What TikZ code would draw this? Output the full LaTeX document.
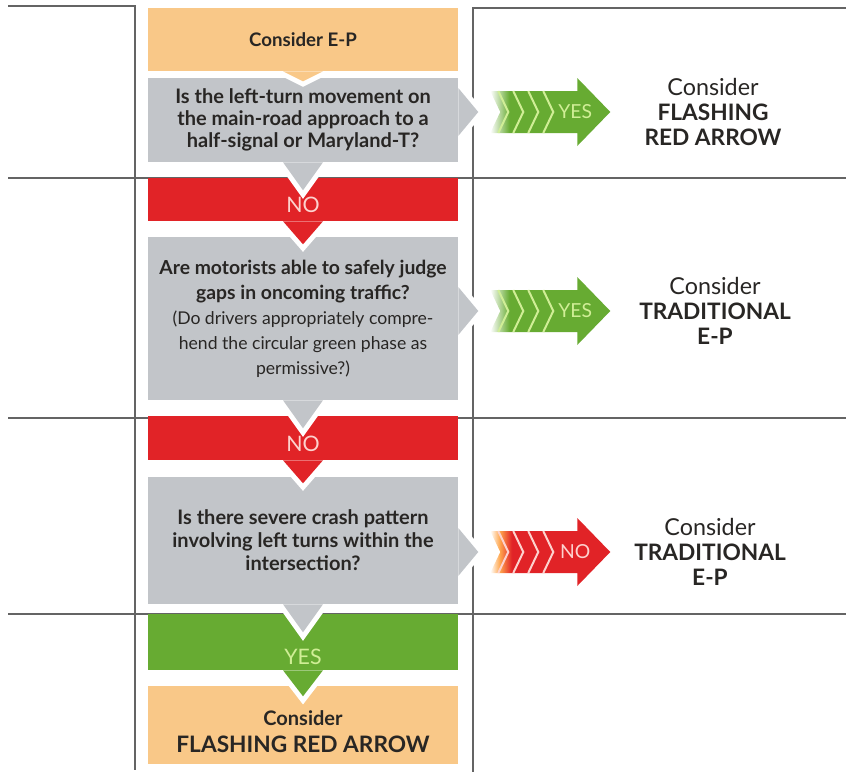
\documentclass[tikz,border=0pt]{standalone}
\usepackage{fontspec}
\setmainfont{Lato}
\usetikzlibrary{calc}

\definecolor{epOrange}{RGB}{249,200,136}
\definecolor{askGray}{RGB}{194,197,201}
\definecolor{noRed}{RGB}{225,35,39}
\definecolor{yesGreen}{RGB}{103,171,50}
\definecolor{yesTint}{RGB}{208,238,150}
\definecolor{noTint}{RGB}{253,210,206}
\definecolor{ruleGray}{RGB}{100,100,100}
\definecolor{ink}{RGB}{40,38,36}

\pgfdeclarehorizontalshading{yesfade}{100bp}{color(0bp)=(white); color(25bp)=(white); color(33bp)=(yesGreen); color(100bp)=(yesGreen)}
\pgfdeclarehorizontalshading{nofade}{100bp}{color(0bp)=(white); color(25bp)=(white); color(29bp)=(orange!70); color(34bp)=(noRed); color(100bp)=(noRed)}

\tikzset{
  stage/.style={rectangle,fill=#1,minimum width=232.5pt,inner sep=0pt,align=center,text=ink},
  ask/.style={stage=askGray,font=\bfseries\fontsize{15}{16.5}\selectfont},
  bar/.style={stage=#1,font=\fontsize{16}{16}\selectfont},
  verdict/.style={align=center,text=ink,font=\bfseries\fontsize{17}{18.5}\selectfont},
  gridline/.style={draw=ruleGray,line width=1.9pt},
}
\newcommand\lowered[2]{\raisebox{-#1}[\height][\depth]{#2}}

% pointer below a box, white rim
\newcommand\tipdown[3]{%
  \begin{scope}
    \clip (#1.south west) rectangle ($(#1.south east)+(0,60)$);
    \draw[white,line width=7.5pt] ($(#1.south)+(-20,0)$) -- ($(#1.south)+(0,#3)$) -- ($(#1.south)+(20,0)$);
  \end{scope}
  \fill[#2] ($(#1.south)+(-20,0)$) -- ($(#1.south)+(0,#3)$) -- ($(#1.south)+(20,0)$) -- cycle;}

% pointer right of a question, level with its verdict
\newcommand\tipright[2]{%
  \coordinate (p) at (#1.east |- #2.west);
  \begin{scope}
    \clip ($(p)+(0,-40)$) rectangle ($(p)+(40,40)$);
    \draw[white,line width=7.5pt] ($(p)+(0,-24)$) -- ($(p)+(20,0)$) -- ($(p)+(0,24)$);
  \end{scope}
  \fill[askGray] ($(p)+(0,-24)$) -- ($(p)+(20,0)$) -- ($(p)+(0,24)$) -- cycle;}

% chevron arrow
\newcommand\chevarrow[4]{%
  \begin{scope}[shift={(#1)}]
    \shade[shading=#2] (0,-21) -- (87,-21) -- (87,-34) -- (120,0) -- (87,34) -- (87,21) -- (0,21) -- (10,0) -- cycle;
    \foreach \cx in {8,23,38,53}
      \draw[#3,line width=1.5pt] (\cx,-21) -- ++(10,21) -- ++(-10,21);
    \node[text=#3,font=\fontsize{14.5}{14.5}\selectfont] at (85,0) {#4};
  \end{scope}}

\begin{document}
\begin{tikzpicture}[x=0.75pt,y=-0.75pt]
\useasboundingbox (0,0) rectangle (846,778);

\draw[gridline] (8,6) -- (135,6) -- (135,770);
\draw[gridline] (846,8) -- (473,8) -- (473,772);
\foreach \y in {178,418,614}
  \draw[gridline] (8,\y) -- (846,\y);

\node[stage=epOrange,minimum height=47.25pt,font=\bfseries\fontsize{14}{16}\selectfont] (ep) at (303,39.5) {Consider E-P};
\node[ask,minimum height=63pt] (q1) at (303,120) {Is the left-turn movement on\\the main-road approach to a\\half-signal or Maryland-T?};
\node[bar=noRed,minimum height=32.25pt,text=noTint] (n1) at (303,199.5) {\lowered{4pt}{NO}};
\node[ask,minimum height=122.25pt,font=\bfseries\fontsize{14.5}{18.75}\selectfont] (q2) at (303,318.5) {Are motorists able to safely judge\\gaps in oncoming traffic?\\{\mdseries\fontsize{13.2}{18.75}\selectfont (Do drivers appropriately compre-}\\{\mdseries\fontsize{13.2}{18.75}\selectfont hend the circular green phase as}\\{\mdseries\fontsize{13.2}{18.75}\selectfont permissive?)}};
\node[bar=noRed,minimum height=33pt,text=noTint] (n2) at (303,438) {\lowered{4.5pt}{NO}};
\node[ask,minimum height=95.25pt,font=\bfseries\fontsize{15}{17.25}\selectfont] (q3) at (303,540.5) {Is there severe crash pattern\\involving left turns within the\\intersection?};
\node[bar=yesGreen,minimum height=42pt,text=yesTint] (ok) at (303,642) {\lowered{11pt}{YES}};
\node[stage=epOrange,minimum height=58.5pt,font=\bfseries\fontsize{15}{20}\selectfont] (fra) at (303,725) {\rule{0pt}{21pt}Consider\\{\fontsize{17}{20}\selectfont FLASHING RED ARROW}};

\tipdown{ep}{epOrange}{10}
\tipdown{q1}{askGray}{28}
\tipdown{n1}{noRed}{23}
\tipdown{q2}{askGray}{28}
\tipdown{n2}{noRed}{23}
\tipdown{q3}{askGray}{28}
\tipdown{ok}{yesGreen}{26}

\node[verdict] (v1) at (713,112) {{\mdseries\fontsize{17.5}{18.5}\selectfont Consider}\\FLASHING\\RED ARROW};
\node[verdict] (v2) at (715,311) {{\mdseries\fontsize{17.5}{18.5}\selectfont Consider}\\TRADITIONAL\\E-P};
\node[verdict] (v3) at (710,552) {{\mdseries\fontsize{17.5}{18.5}\selectfont Consider}\\TRADITIONAL\\E-P};

\tipright{q1}{v1}
\chevarrow{$(p)+(32,0)$}{yesfade}{yesTint}{YES}
\tipright{q2}{v2}
\chevarrow{$(p)+(32,0)$}{yesfade}{yesTint}{YES}
\tipright{q3}{v3}
\chevarrow{$(p)+(32,0)$}{nofade}{noTint}{NO}
\end{tikzpicture}
\end{document}
